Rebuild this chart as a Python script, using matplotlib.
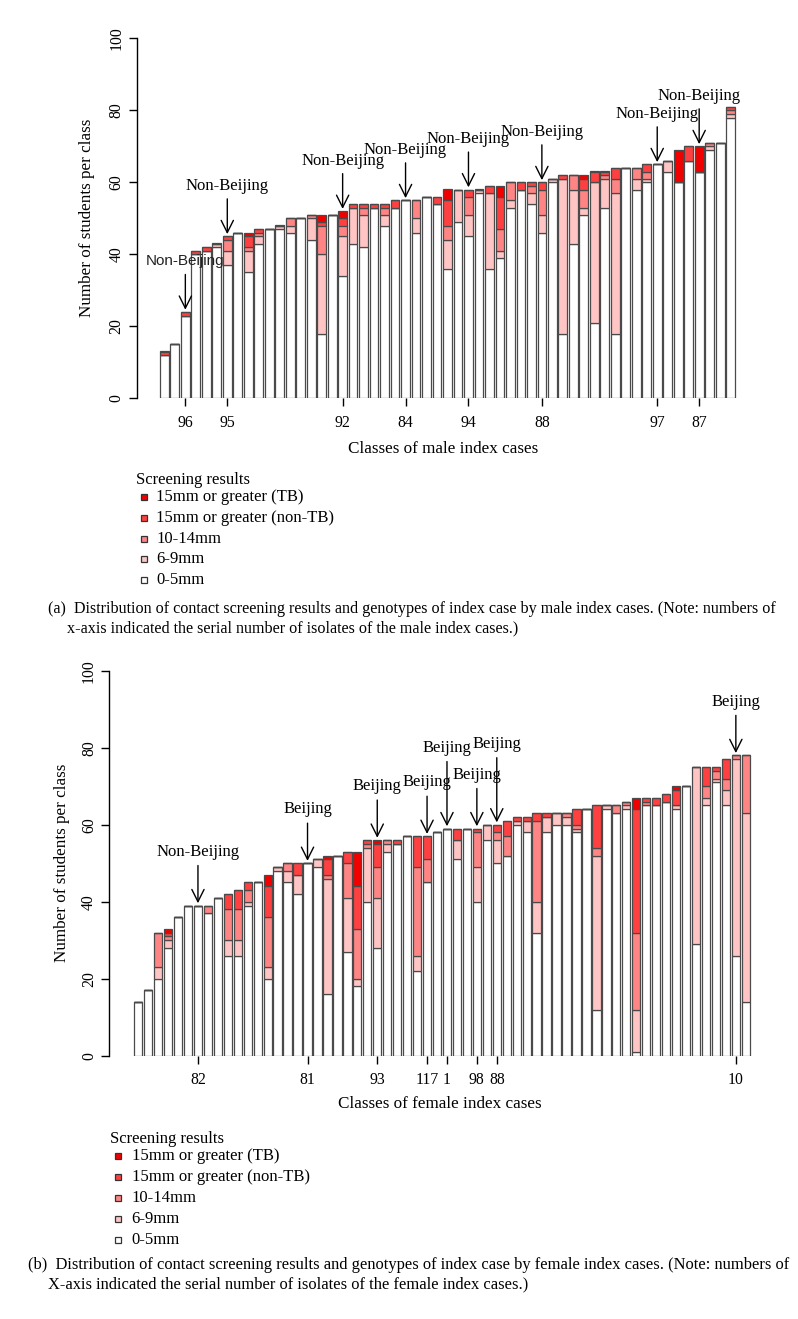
import matplotlib

matplotlib.use("Agg")
import matplotlib.pyplot as plt
from matplotlib.patches import Rectangle

# ---- data: male index cases (panel a), one value per class ----
MALE_0_5 = [12, 15, 23, 40, 41, 42, 37, 46, 35, 43, 47, 47, 46, 50, 44, 18, 51, 34, 43, 42,
            53, 48, 53, 55, 46, 56, 54, 36, 49, 45, 57, 36, 39, 53, 58, 54, 46, 60, 18, 43,
            51, 21, 53, 18, 64, 58, 60, 65, 63, 60, 66, 63, 69, 71, 78]
MALE_6_9 = [0, 0, 0, 0, 0, 1, 4, 0, 6, 2, 0, 1, 2, 0, 6, 22, 0, 11, 10, 9,
            0, 3, 0, 0, 4, 0, 0, 8, 9, 6, 1, 21, 2, 2, 0, 3, 5, 1, 43, 15,
            2, 39, 8, 39, 0, 3, 1, 0, 3, 0, 0, 0, 1, 0, 1]
MALE_10_14 = [0, 0, 0, 0, 0, 0, 3, 0, 1, 1, 0, 0, 2, 0, 1, 8, 0, 3, 0, 2,
              0, 2, 0, 0, 5, 0, 0, 4, 0, 5, 0, 0, 6, 5, 0, 2, 7, 0, 0, 4,
              5, 0, 1, 4, 0, 3, 2, 0, 0, 0, 0, 0, 1, 0, 1]
MALE_15_NONTB = [1, 0, 1, 1, 1, 0, 1, 0, 3, 1, 0, 0, 0, 0, 0, 1, 0, 2, 1, 1,
                 1, 1, 2, 0, 0, 0, 2, 7, 0, 2, 0, 2, 9, 0, 2, 1, 2, 0, 1, 0,
                 3, 3, 1, 3, 0, 0, 2, 0, 0, 0, 4, 0, 0, 0, 1]
MALE_15_TB = [0, 0, 0, 0, 0, 0, 0, 0, 1, 0, 0, 0, 0, 0, 0, 2, 0, 2, 0, 0,
              0, 0, 0, 0, 0, 0, 0, 3, 0, 0, 0, 0, 3, 0, 0, 0, 0, 0, 0, 0,
              1, 0, 0, 0, 0, 0, 0, 0, 0, 9, 0, 7, 0, 0, 0]
MALE_TICK_BARS = [3, 7, 18, 24, 30, 37, 48, 52]
MALE_TICK_LABELS = ["96", "95", "92", "84", "94", "88", "97", "87"]
MALE_GENOTYPES = ["Non-Beijing"] * 8

# ---- data: female index cases (panel b) ----
FEMALE_0_5 = [14, 17, 20, 28, 36, 39, 39, 37, 41, 26, 26, 39, 45, 20, 48, 45, 42, 50, 49, 16,
              52, 27, 18, 40, 28, 53, 55, 57, 22, 45, 58, 59, 51, 59, 40, 56, 50, 52, 60, 58,
              32, 58, 60, 60, 58, 64, 12, 64, 63, 64, 1, 65, 65, 66, 64, 70, 29, 65, 71, 65,
              26, 14]
FEMALE_6_9 = [0, 0, 3, 2, 0, 0, 0, 0, 0, 4, 4, 1, 0, 3, 1, 3, 5, 0, 2, 30,
              0, 14, 2, 14, 13, 2, 0, 0, 4, 0, 0, 0, 5, 0, 9, 4, 6, 0, 1, 3,
              8, 4, 3, 2, 1, 0, 40, 1, 0, 1, 11, 0, 0, 0, 1, 0, 46, 2, 1, 4,
              51, 49]
FEMALE_10_14 = [0, 0, 9, 1, 0, 0, 0, 2, 0, 8, 8, 3, 0, 13, 0, 2, 0, 0, 0, 1,
                0, 9, 13, 1, 8, 1, 0, 0, 23, 6, 0, 0, 0, 0, 9, 0, 2, 5, 0, 0,
                21, 0, 0, 1, 1, 0, 2, 0, 2, 1, 20, 1, 0, 0, 0, 0, 0, 3, 2, 3,
                1, 15]
FEMALE_15_NONTB = [0, 0, 0, 1, 0, 0, 0, 0, 0, 4, 5, 2, 0, 8, 0, 0, 3, 0, 0, 4,
                   0, 3, 11, 1, 6, 0, 1, 0, 8, 6, 0, 0, 3, 0, 1, 0, 2, 4, 1, 1,
                   2, 1, 0, 0, 4, 0, 11, 0, 0, 0, 32, 1, 2, 2, 4, 0, 0, 5, 1, 5,
                   0, 0]
FEMALE_15_TB = [0, 0, 0, 1, 0, 0, 0, 0, 0, 0, 0, 0, 0, 3, 0, 0, 0, 0, 0, 1,
                0, 0, 9, 0, 1, 0, 0, 0, 0, 0, 0, 0, 0, 0, 0, 0, 0, 0, 0, 0,
                0, 0, 0, 0, 0, 0, 0, 0, 0, 0, 3, 0, 0, 0, 1, 0, 0, 0, 0, 0,
                0, 0]
FEMALE_TICK_BARS = [7, 18, 25, 30, 32, 35, 37, 61]
FEMALE_TICK_LABELS = ["82", "81", "93", "117", "1", "98", "88", "10"]
FEMALE_GENOTYPES = ["Non-Beijing"] + ["Beijing"] * 7

LEGEND_LABELS = ["15mm or greater (TB)", "15mm or greater (non-TB)", "10-14mm", "6-9mm", "0-5mm"]
COLORS = ["#F20000", "#FF4040", "#FF8585", "#FFC4C4", "#FFFFFF"]  # same order as legend

# label heights above bar tops (layout only)
MALE_LIFT = [14] * 8
FEMALE_LIFT = [14, 14, 14, 14, 21, 14, 21, 14]

W, H = 798, 1319
plt.rcParams["font.family"] = ["Liberation Serif", "DejaVu Serif"]


def fx(x):
    return x / W


def fy(y):
    return 1 - y / H


def draw_panel(ax, layers, ticks, tick_labels, genotypes, lifts, sans_first=False):
    n = len(layers[0])
    w = 1 / 1.2
    xs = list(range(n))
    bottom = [0] * n
    # stack from 0-5mm upwards
    for vals, col in zip(layers, COLORS[::-1]):
        ax.bar(xs, vals, width=w, bottom=bottom, color=col,
               edgecolor="#4a4a4a", linewidth=0.9)
        bottom = [b + v for b, v in zip(bottom, vals)]
    ext = 0.04 * (n - 1 + w)
    ax.set_xlim(-w / 2 - ext, n - 1 + w / 2 + ext)
    ax.set_ylim(0, 104)
    for s in ["top", "right", "bottom"]:
        ax.spines[s].set_visible(False)
    ax.spines["left"].set_bounds(0, 100)
    ax.spines["left"].set_linewidth(1.0)
    ax.set_yticks([0, 20, 40, 60, 80, 100])
    ax.set_yticklabels(["0", "20", "40", "60", "80", "100"], rotation=90, va="center")
    ax.set_xticks([t - 1 for t in ticks])
    ax.set_xticklabels(tick_labels)
    ax.tick_params(axis="both", length=6, width=1.0, labelsize=11.3)
    ax.tick_params(axis="x", pad=6)
    ax.tick_params(axis="y", pad=3)

    for k, (t, g, lift) in enumerate(zip(ticks, genotypes, lifts)):
        top = bottom[t - 1]
        kw = dict(fontsize=12)
        if sans_first and k == 0:
            kw = dict(family="Liberation Sans", color="#222222", fontsize=11)
        ax.text(t - 1, top + lift, g, ha="center", va="center", clip_on=False, **kw)
        ax.annotate("", xy=(t - 1, top + 0.6), xytext=(t - 1, top + lift - 3.6),
                    arrowprops=dict(arrowstyle="->", lw=1.0, color="black",
                                    mutation_scale=22, shrinkA=0, shrinkB=0),
                    annotation_clip=False)


def draw_legend(fig, x_title, y_title, x_box, y_first, step, x_text):
    fig.text(fx(x_title), fy(y_title), "Screening results", fontsize=12,
             ha="left", va="center")
    for k, (lab, col) in enumerate(zip(LEGEND_LABELS, COLORS)):
        yy = y_first + k * step
        fig.add_artist(Rectangle((fx(x_box - 3), fy(yy + 3)), 6 / W, 6 / H,
                                 transform=fig.transFigure, facecolor=col,
                                 edgecolor="#333333", linewidth=0.9))
        fig.text(fx(x_text), fy(yy), lab, fontsize=12, ha="left", va="center")


fig = plt.figure(figsize=(W / 100, H / 100), dpi=100, facecolor="white")

ax_a = fig.add_axes([fx(137), fy(398.3), (758 - 137) / W, 374.4 / H])
draw_panel(ax_a, [MALE_0_5, MALE_6_9, MALE_10_14, MALE_15_NONTB, MALE_15_TB],
           MALE_TICK_BARS, MALE_TICK_LABELS, MALE_GENOTYPES, MALE_LIFT, sans_first=True)
fig.text(fx(443), fy(449), "Classes of male index cases", fontsize=12.3, ha="center", va="center")
fig.text(fx(87), fy(218), "Number of students per class", fontsize=12.3, ha="center",
         va="center", rotation=90)
draw_legend(fig, 136.5, 480, 144, 497.3, 20.7, 156.5)
fig.text(fx(48), fy(609), "(a)  Distribution of contact screening results and genotypes of index case "
         "by male index cases. (Note: numbers of", fontsize=11.6, ha="left", va="center")
fig.text(fx(67), fy(628), "x-axis indicated the serial number of isolates of the male index cases.)",
         fontsize=11.6, ha="left", va="center")

ax_b = fig.add_axes([fx(109.4), fy(1055.7), (774.6 - 109.4) / W, 400.4 / H])
draw_panel(ax_b, [FEMALE_0_5, FEMALE_6_9, FEMALE_10_14, FEMALE_15_NONTB, FEMALE_15_TB],
           FEMALE_TICK_BARS, FEMALE_TICK_LABELS, FEMALE_GENOTYPES, FEMALE_LIFT)
fig.text(fx(440), fy(1104), "Classes of female index cases", fontsize=12.3, ha="center", va="center")
fig.text(fx(62), fy(863), "Number of students per class", fontsize=12.3, ha="center",
         va="center", rotation=90)
draw_legend(fig, 110.5, 1139.3, 118.3, 1156, 21.0, 131.5)
fig.text(fx(28), fy(1265), "(b)  Distribution of contact screening results and genotypes of index case "
         "by female index cases. (Note: numbers of", fontsize=11.85, ha="left", va="center")
fig.text(fx(48), fy(1284), "X-axis indicated the serial number of isolates of the female index cases.)",
         fontsize=11.85, ha="left", va="center")

fig.savefig("out.png", dpi=100, facecolor="white")
